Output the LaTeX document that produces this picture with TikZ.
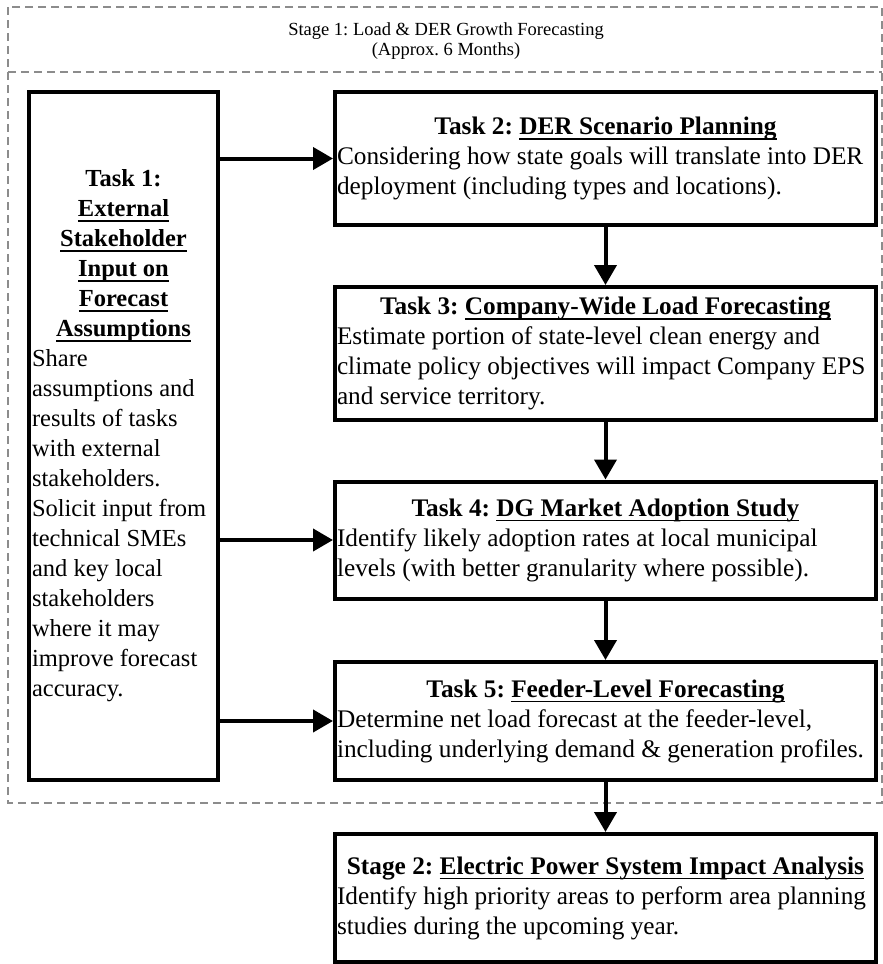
\documentclass[tikz,border=0pt]{standalone}
\usepackage{fontspec}
\setmainfont{Liberation Serif}
\frenchspacing
\newsavebox\myulbox
\newcommand{\myul}[1]{\leavevmode\sbox\myulbox{#1}\rlap{\rule[-5.2pt]{\wd\myulbox}{1.7pt}}\usebox\myulbox}
\newcommand{\rtitle}[1]{\makebox[537pt][c]{\bfseries #1}}
\newcommand{\ltitle}[1]{\makebox[183pt][c]{\bfseries #1}}
\usetikzlibrary{arrows.meta}
\begin{document}
\begin{tikzpicture}[x=1pt,y=-1pt,
  dashline/.style={draw=black!45, line width=1.3pt, dash pattern=on 8pt off 5pt},
  tbox/.style={draw, line width=4pt, rectangle, fill=white, inner xsep=0pt, inner ysep=0pt,
    align=left, font=\fontsize{25.3}{30}\selectfont},
  rbox/.style={tbox, minimum width=541pt},
  arr/.style={line width=4pt, -{Triangle[length=20pt,width=22pt]}},
  hdr/.style={align=center, font=\fontsize{18.5}{20.5}\selectfont, inner sep=0pt}
]
\useasboundingbox (0,0) rectangle (883,964);
% dashed stage 1 frame
\draw[dashline] (8,7) rectangle (882,803);
\draw[dashline] (8,72) -- (882,72);
\node[hdr] (head) at (446,41) {Stage 1: Load \& DER Growth Forecasting\\(Approx. 6 Months)};

% Task 1
\node[tbox, minimum width=189pt, minimum height=688pt, font=\fontsize{24.5}{30}\selectfont] (t1) at (123.5,436) {%
\ltitle{Task 1:}\\ \ltitle{\myul{External}}\\ \ltitle{\myul{Stakeholder}}\\ \ltitle{\myul{Input on}}\\ \ltitle{\myul{Forecast}}\\ \ltitle{\myul{Assumptions}}\\
Share\\ assumptions and\\ results of tasks\\ with external\\ stakeholders.\\ Solicit input from\\ technical SMEs\\ and key local\\ stakeholders\\ where it may\\ improve forecast\\ accuracy.};

% Task 2
\node[rbox, minimum height=133pt] (t2) at (605.5,158.5) {%
\rtitle{Task 2: \myul{DER Scenario Planning}}\\
Considering how state goals will translate into DER\\ deployment (including types and locations).};

% Task 3
\node[rbox, minimum height=133pt] (t3) at (605.5,353.5) {%
\rtitle{Task 3: \myul{Company-Wide Load Forecasting}}\\
Estimate portion of state-level clean energy and\\ climate policy objectives will impact Company EPS\\ and service territory.};

% Task 4
\node[rbox, minimum height=117pt] (t4) at (605.5,540) {%
\rtitle{Task 4: \myul{DG Market Adoption Study}}\\
Identify likely adoption rates at local municipal\\ levels (with better granularity where possible).};

% Task 5
\node[rbox, minimum height=118pt] (t5) at (605.5,721) {%
\rtitle{Task 5: \myul{Feeder-Level Forecasting}}\\
Determine net load forecast at the feeder-level,\\ including underlying demand \& generation profiles.};

% Stage 2
\node[rbox, minimum height=128pt] (s2) at (605.5,898) {%
\rtitle{Stage 2: \myul{Electric Power System Impact Analysis}}\\
Identify high priority areas to perform area planning\\ studies during the upcoming year.};

% connectors
\draw[arr] (t1.east |- t2.west) -- (t2.west);
\draw[arr] (t1.east |- t4.west) -- (t4.west);
\draw[arr] (t1.east |- t5.west) -- (t5.west);
\draw[arr] (t2.south) -- (t3.north);
\draw[arr] (t3.south) -- (t4.north);
\draw[arr] (t4.south) -- (t5.north);
\draw[arr] (t5.south) -- (s2.north);
\end{tikzpicture}
\end{document}
